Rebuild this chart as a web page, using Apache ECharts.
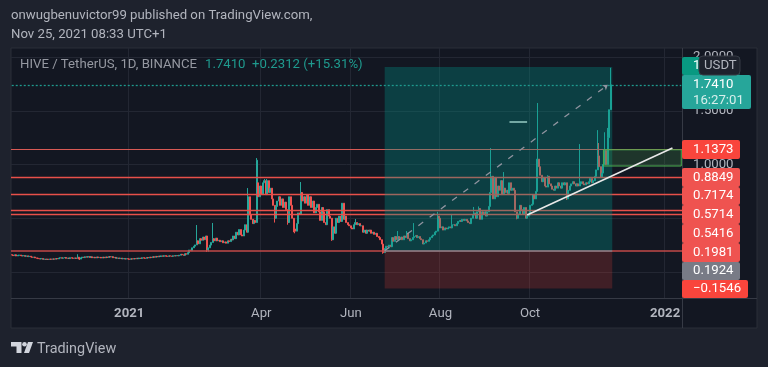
<!DOCTYPE html>
<html><head><meta charset="utf-8">
<style>html,body{margin:0;padding:0;background:#1e222d}#c{width:768px;height:367px}</style>
<script src="https://cdn.jsdelivr.net/npm/echarts@6/dist/echarts.min.js"></script>
</head><body><div id="c"></div>
<script>
const firstDay = '2020-10-13';
const dayCount = 457;
const closes = [
.158,.152,.160,.149,.155,.158,.152,.149,.153,.146,.150,.143,.147,
.140,.136,.139,.131,.128,.124,.121,.125,
.118,.121,.116,.119,.117,.121,.118,.122,.119,.125,.122,.129,.133,
.128,.131,.135,.127,.130,.125,.133,.129,.127,.131,.126,
.137,.120,.132,.139,.134,.142,
.138,.144,.135,.141,.133,.137,.131,.140,.134,.136,.130,.138,.132,.140,.135,.143,.139,
.142,.133,.136,.128,.131,.125,.129,.122,.126,.120,.124,.121,.118,.123,.120,.125,.122,
.128,.124,.130,.126,.133,.129,.127,.135,.131,.138,.134,.142,.137,.145,.140,.148,
.144,.150,.146,.152,.147,.145,.150,.148,.146,.151,.149,.153,.150,.156,.165,
.160,.155,.170,.165,.180,.205,.198,.225,.240,.252,.290,.262,.310,.295,.325,.300,.335,.205,.225,.250,.275,.310,
.290,.315,.290,.295,.282,.290,.272,.280,.268,.290,.283,.305,.298,.335,.310,.370,.345,.395,.345,.335,.390,.440,.370,.700,
.530,.490,.450,.480,.460,1.040,.700,.800,.720,.830,.850,.720,.850,.740,.780,.680,.620,.500,.610,.660,.700,.620,.680,.600,.650,.580,.460,.700,.620,.500,.400,.380,.450,.550,.540,.740,
.660,.700,.640,.720,.620,.700,.600,.660,.550,.600,.630,.560,.480,.600,.560,.460,.440,.580,.520,.500,.300,.420,.360,.500,.460,.520,.470,.640,.490,.520,.460,.440,.430,.410,.400,.440,.460,.440,.450,.430,.430,.370,.390,.360,.390,.380,.390,.360,.370,.350,.360,.330,.320,.300,.260,.180,
.220,.240,.235,.250,.235,.320,.285,.330,.300,.330,.310,.325,.300,.335,.320,.360,.310,.290,.300,.320,.330,.340,.320,.330,.310,.300,.260,.270,.290,.285,.300,.320,.335,.345,.370,.380,.520,.500,.410,.420,.390,.410,.400,.410,.420,.410,.440,.440,.430,.450,.470,.480,.470,.490,.480,.490,.475,.460,.450,.500,.530,.550,.500,.560,.590,.490,.560,.540,.560,.520,.560,.610,
.740,.890,.680,.880,.700,.800,.760,.850,.720,.780,.740,.760,.730,.830,.760,.780,.760,.560,.500,.540,.620,.580,.540,.600,.500,.520,.530,.620,.630,.720,.680,.750,1.050,
.980,.900,.840,.880,.800,.790,.890,.820,.800,.770,.760,.800,.780,.830,.800,.780,.830,.810,.830,.680,.760,.800,.820,.840,.820,.800,.820,.800,.820,.840,.820,.810,.830,.820,.840,.870,.830,.850,.890,.950,1.080,.980,.880,.920,1.000,1.130,1.000,1.250,1.5098,1.741
];
const firstOpen = .16;
const gapDays  = [168];
const gapOpens = [.83];
const spikeDays  = [45,126,137,161,167,172,174,197,218,225,234,263,269,274,290,300,315,318,326,335,358,365,387,399,400,404,406,408];
const spikeHighs = [.165,.437,.456,.781,1.06,.865,.865,.837,.40,.642,.493,.381,.381,.455,.56,.54,.605,.61,1.153,.93,1.572,.90,1.19,1.32,1.20,1.30,1.34,1.90];
const dipDays = [46,133,134,179,188,192,193,218,253,344,351,378];
const dipLows = [.112,.186,.19,.46,.44,.37,.36,.29,.17,.49,.50,.67];

const levels = [1.1373,.8849,.7174,.5714,.5416,.1981];
const levelColors = ['#d85a55','#e8504a','#e8504a','#e8504a','#e8504a','#c24a48'];
const levelWidths = [1.2,1.3,1.3,1.3,1.3,1.7];
const lastPrice = 1.741;
const targetPrice = 1.907;
const stopPrice = -0.1546;
const entryPrice = 0.1981;
const yTicks = [0,.5,1,1.5,2];
const tickDates = ['2021-01-01','2021-04-01','2021-06-01','2021-08-01','2021-10-01','2022-01-01'];
const tickLabels = ['2021','Apr','Jun','Aug','Oct','2022'];

const UP='#26a69a', DOWN='#ef5350';

const cats=[]; { const d0=Date.parse(firstDay+'T00:00:00Z');
  for(let i=0;i<dayCount;i++) cats.push(new Date(d0+i*864e5).toISOString().slice(0,10)); }
const candles = closes.map((c,i)=>{
  const g = gapDays.indexOf(i);
  const o = g>=0 ? gapOpens[g] : (i? closes[i-1] : firstOpen);
  const s = spikeDays.indexOf(i), d = dipDays.indexOf(i);
  return [o,c, d>=0?Math.min(dipLows[d],o,c):Math.min(o,c), s>=0?Math.max(spikeHighs[s],o,c):Math.max(o,c)];
});
const boxFrom=cats[254], boxTo=cats[409], greenFrom=cats[403], greenTo=cats[456];
const isTick=(i,v)=>tickDates.indexOf(v)>=0;

const tagTexts  = ['1.1373','0.8849','0.7174','0.5714','0.5416','0.1981','0.1924','\u22120.1546'];
const tagColors = ['#f9453c','#ef5350','#ef5350','#ef5350','#ef5350','#ef5350','#787b86','#f9453c'];
const tagTops   = [140,168,187,205,224,243,262,280];
const tagBottoms= [159,187,205,224,243,262,280,298];
const tagRights = [740,740,740,740,740,740,740,748];

const F='Roboto, sans-serif', FS=13.2;
const txt=(x,y,text,fill,size,extra)=>({type:'text',x,y,z:20,silent:true,style:Object.assign({text,fill,font:(size||FS)+'px '+F,textVerticalAlign:'middle'},extra||{})});
const rect=(x,y,w,h,fill,r,stroke,z)=>({type:'rect',z:z||18,silent:true,shape:{x,y,width:w,height:h,r:r||0},style:{fill,stroke:stroke||null,lineWidth:stroke?1:0}});
const gline=(x1,y1,x2,y2)=>({type:'line',z:6,silent:true,shape:{x1,y1,x2,y2},style:{stroke:'#363a45',lineWidth:1}});

const graphics=[
 {type:'rect',z:-10,silent:true,shape:{x:11,y:48,width:746,height:280},style:{fill:'#131722',stroke:'#2a2e39',lineWidth:1}},
 gline(682.5,48,682.5,328), gline(11,298.5,757,298.5),
 txt(11,16,'onwugbenuvictor99 published on TradingView.com,','#b2b5be'),
 txt(11,35,'Nov 25, 2021 08:33 UTC+1','#b2b5be'),
 txt(20,65,'HIVE / TetherUS, 1D, BINANCE','#9598a1'),
 txt(205,65,'1.7410','#1f9a8e'),
 txt(252,65,'+0.2312 (+15.31%)','#1f9a8e'),
 rect(682,57,58,18,'#089981',2),
 txt(693,66,'1','#ffffff'),
 rect(699,56,41,19,'#1e222d',4,'#363a45',19),
 txt(704,66,'USDT','#b2b5be'),
 rect(682,75,69,34,'#26a69a',2),
 txt(693,85,'1.7410','#ffffff'),
 txt(693,101,'16:27:01','#d6efec'),
];
tagTexts.forEach((t,i)=>{
  graphics.push(rect(682,tagTops[i],tagRights[i]-682,tagBottoms[i]-tagTops[i],tagColors[i],2));
  graphics.push(txt(693,(tagTops[i]+tagBottoms[i])/2,t,'#ffffff'));
});
graphics.push(
 {type:'polygon',z:20,silent:true,shape:{points:[[11,342],[21.5,342],[21.5,353],[16.5,353],[16.5,346.5],[11,346.5]]},style:{fill:'#d1d4dc'}},
 {type:'circle',z:20,silent:true,shape:{cx:24.5,cy:344.2,r:2.3},style:{fill:'#d1d4dc'}},
 {type:'polygon',z:20,silent:true,shape:{points:[[24,353],[28,342],[33,342],[29,353]]},style:{fill:'#d1d4dc'}},
 txt(37,349,'TradingView','#b2b5be',14.4)
);

const chart=echarts.init(document.getElementById('c'),null,{renderer:'canvas'});
chart.setOption({
 animation:false,
 backgroundColor:'#1e222d',
 grid:{left:11,top:48,width:671,height:250,containLabel:false},
 xAxis:{type:'category',data:cats,boundaryGap:true,
  axisLine:{show:false},axisTick:{show:false},
  splitLine:{show:true,interval:isTick,lineStyle:{color:'#232733',width:1}},
  axisLabel:{interval:isTick,margin:9,color:'#b2b5be',fontFamily:F,fontSize:FS,
   formatter:v=>{const l=tickLabels[tickDates.indexOf(v)];return /^\d/.test(l)?'{b|'+l+'}':l;},
   rich:{b:{fontWeight:'bold',fontSize:FS,color:'#b2b5be',fontFamily:F}}}},
 yAxis:{type:'value',position:'right',min:-0.242,max:2.084,scale:false,
  axisLine:{show:false},axisTick:{show:false,customValues:yTicks},
  splitLine:{show:true,lineStyle:{color:'#232733',width:1}},
  axisLabel:{customValues:yTicks,margin:11,color:'#b2b5be',fontFamily:F,fontSize:FS,formatter:v=>v.toFixed(4)}},
 graphic:graphics,
 series:[
  {type:'candlestick',name:'HIVE',data:candles,barWidth:1.5,z:2,large:false,silent:true,
   itemStyle:{color:UP,color0:DOWN,borderColor:UP,borderColor0:DOWN,borderWidth:1}},
  {type:'line',name:'levels',data:[],z:3,silent:true,symbol:'none',
   markLine:{silent:true,z:3,symbol:'none',label:{show:false},
    data:levels.map((v,i)=>({yAxis:v,lineStyle:{color:levelColors[i],width:levelWidths[i],type:'solid'}}))}},
  {type:'line',name:'position',data:[],z:4,silent:true,symbol:'none',
   markArea:{silent:true,z:4,label:{show:false},data:[
     [{xAxis:boxFrom,yAxis:entryPrice,itemStyle:{color:'rgba(0,150,136,0.32)'}},{xAxis:boxTo,yAxis:targetPrice}],
     [{xAxis:boxFrom,yAxis:stopPrice,itemStyle:{color:'rgba(244,67,54,0.2)'}},{xAxis:boxTo,yAxis:entryPrice}],
     [{xAxis:greenFrom,yAxis:1.1373,itemStyle:{color:'rgba(76,175,80,0.2)',borderColor:'#4caf50',borderWidth:1}},{xAxis:greenTo,yAxis:.986}]
   ]}},
  {type:'line',name:'drawings',data:[],z:5,silent:true,symbol:'none',
   markLine:{silent:true,z:5,symbol:'none',label:{show:false},data:[
     [{xAxis:cats[0],yAxis:lastPrice,lineStyle:{color:'#1f9a8e',width:1.3,type:[2,2]}},{xAxis:cats[456],yAxis:lastPrice}],
     [{xAxis:boxFrom,yAxis:entryPrice,lineStyle:{color:'#787b86',width:1.5,type:'solid'}},{xAxis:boxTo,yAxis:entryPrice}],
     [{xAxis:boxFrom,yAxis:entryPrice,lineStyle:{color:'#9094a0',width:1.3,type:[6,8]}},{xAxis:cats[406],yAxis:lastPrice,symbol:'arrow',symbolSize:5}],
     [{xAxis:cats[351],yAxis:.53,lineStyle:{color:'#e8e8e8',width:1.6,type:'solid'}},{xAxis:cats[450],yAxis:1.153}],
     [{xAxis:cats[339],yAxis:1.398,lineStyle:{color:'#8fc4bd',width:1.6,type:'solid'}},{xAxis:cats[351],yAxis:1.398}]
   ]}}
 ]
});
</script></body></html>
